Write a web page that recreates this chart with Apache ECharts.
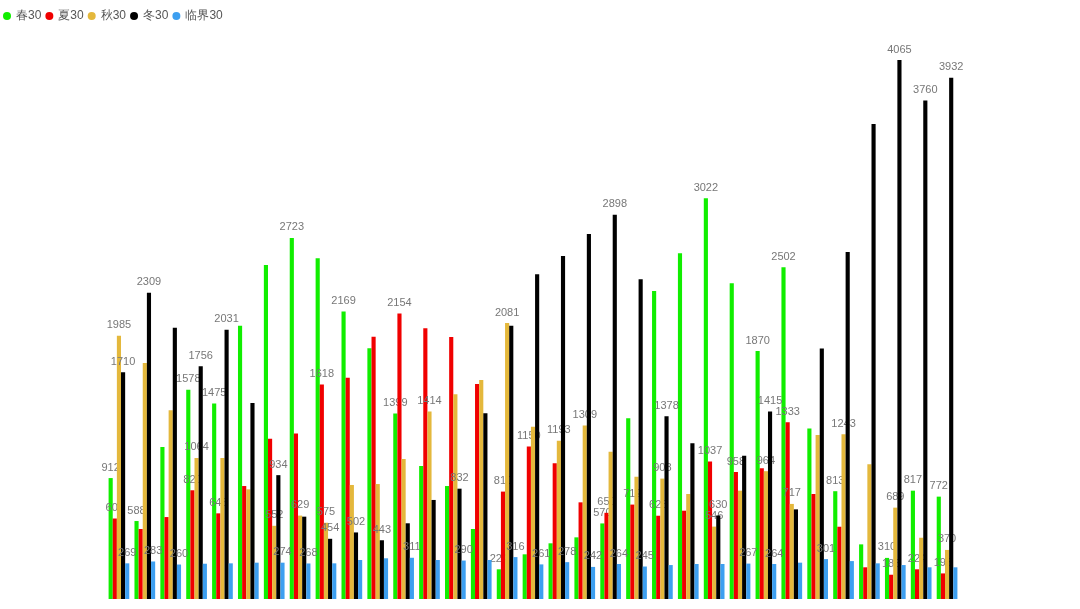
<!DOCTYPE html>
<html>
<head>
<meta charset="utf-8">
<script src="https://cdn.jsdelivr.net/npm/echarts@6/dist/echarts.min.js"></script>
<style>html,body{margin:0;padding:0;background:#fff}#c{width:1080px;height:609px}</style>
</head>
<body>
<div id="c"></div>
<script>
const categories = ['1','2','3','4','5','6','7','8','9','10','11','12','13','14','15','16','17','18','19','20','21','22','23','24','25','26','27','28','29','30','31','32','33'];
const seriesNames = ['春30','夏30','秋30','冬30','临界30'];
const spring = [912,588,1146,1578,1475,2061,2519,2723,2569,2169,1891,1399,1003,852,528,224,337,420,465,570,1363,2323,2607,3022,2381,1870,2502,1285,813,412,310,817,772];
const summer = [607,528,618,820,646,852,1209,1249,1618,1669,1978,2154,2041,1976,1621,810,1150,1023,729,650,712,628,666,1037,958,986,1333,792,545,239,183,224,193];
const autumn = [1985,1780,1423,1064,1063,827,552,629,575,860,867,1056,1414,1544,1652,2081,1300,1193,1309,1111,922,908,792,546,817,964,717,1237,1243,1016,689,462,370];
const winter = [1710,2309,2046,1756,2031,1478,934,621,454,502,443,571,747,832,1400,2061,2449,2587,2753,2898,2411,1378,1174,630,1081,1415,676,1890,2617,3582,4065,3760,3932];
const critical = [269,283,260,266,269,274,274,268,269,294,307,311,294,290,294,316,261,278,242,264,245,256,264,264,267,264,274,301,286,269,256,239,239];
// category indices whose value label is visible in the reference
const springLabeled = [0,1,3,4,7,9,11,15,19,23,25,26,28,30,31,32];
const summerLabeled = [0,3,4,8,11,15,16,19,20,21,23,24,26,30,31,32];
const autumnLabeled = [0,3,6,7,8,12,15,17,18,21,23,25,26,28,30,32];
const winterLabeled = [0,1,3,4,6,8,9,10,13,19,21,23,25,30,31,32];
const criticalLabeled = [0,1,2,6,7,11,13,15,16,17,18,19,20,24,25,27];
const colors = ['#11ee00','#f00000','#e4b83c','#000000','#3d9ff0'];

const allData = [spring, summer, autumn, winter, critical];
const allLabeled = [springLabeled, summerLabeled, autumnLabeled, winterLabeled, criticalLabeled];
const chart = echarts.init(document.getElementById('c'));
chart.setOption({
  animation: false,
  color: colors,
  legend: {
    left: 3, top: 10, padding: 0,
    icon: 'circle',
    itemWidth: 8, itemHeight: 8, itemGap: 4,
    textStyle: { fontSize: 12, color: '#555' },
    data: seriesNames
  },
  grid: { left: 106, right: 120, top: 60, bottom: 10, containLabel: false },
  xAxis: { type: 'category', data: categories, show: false },
  yAxis: { type: 'value', show: false, min: 0, max: 'dataMax' },
  series: seriesNames.map((n, i) => ({
    name: n,
    type: 'bar',
    z: 2 + i,
    barGap: '0%',
    barCategoryGap: '20%',
    label: { show: false, position: 'top', fontSize: 11, color: '#777' },
    data: allData[i].map((v, j) => ({
      value: v,
      label: { show: allLabeled[i].indexOf(j) >= 0 }
    }))
  }))
});
</script>
</body>
</html>
